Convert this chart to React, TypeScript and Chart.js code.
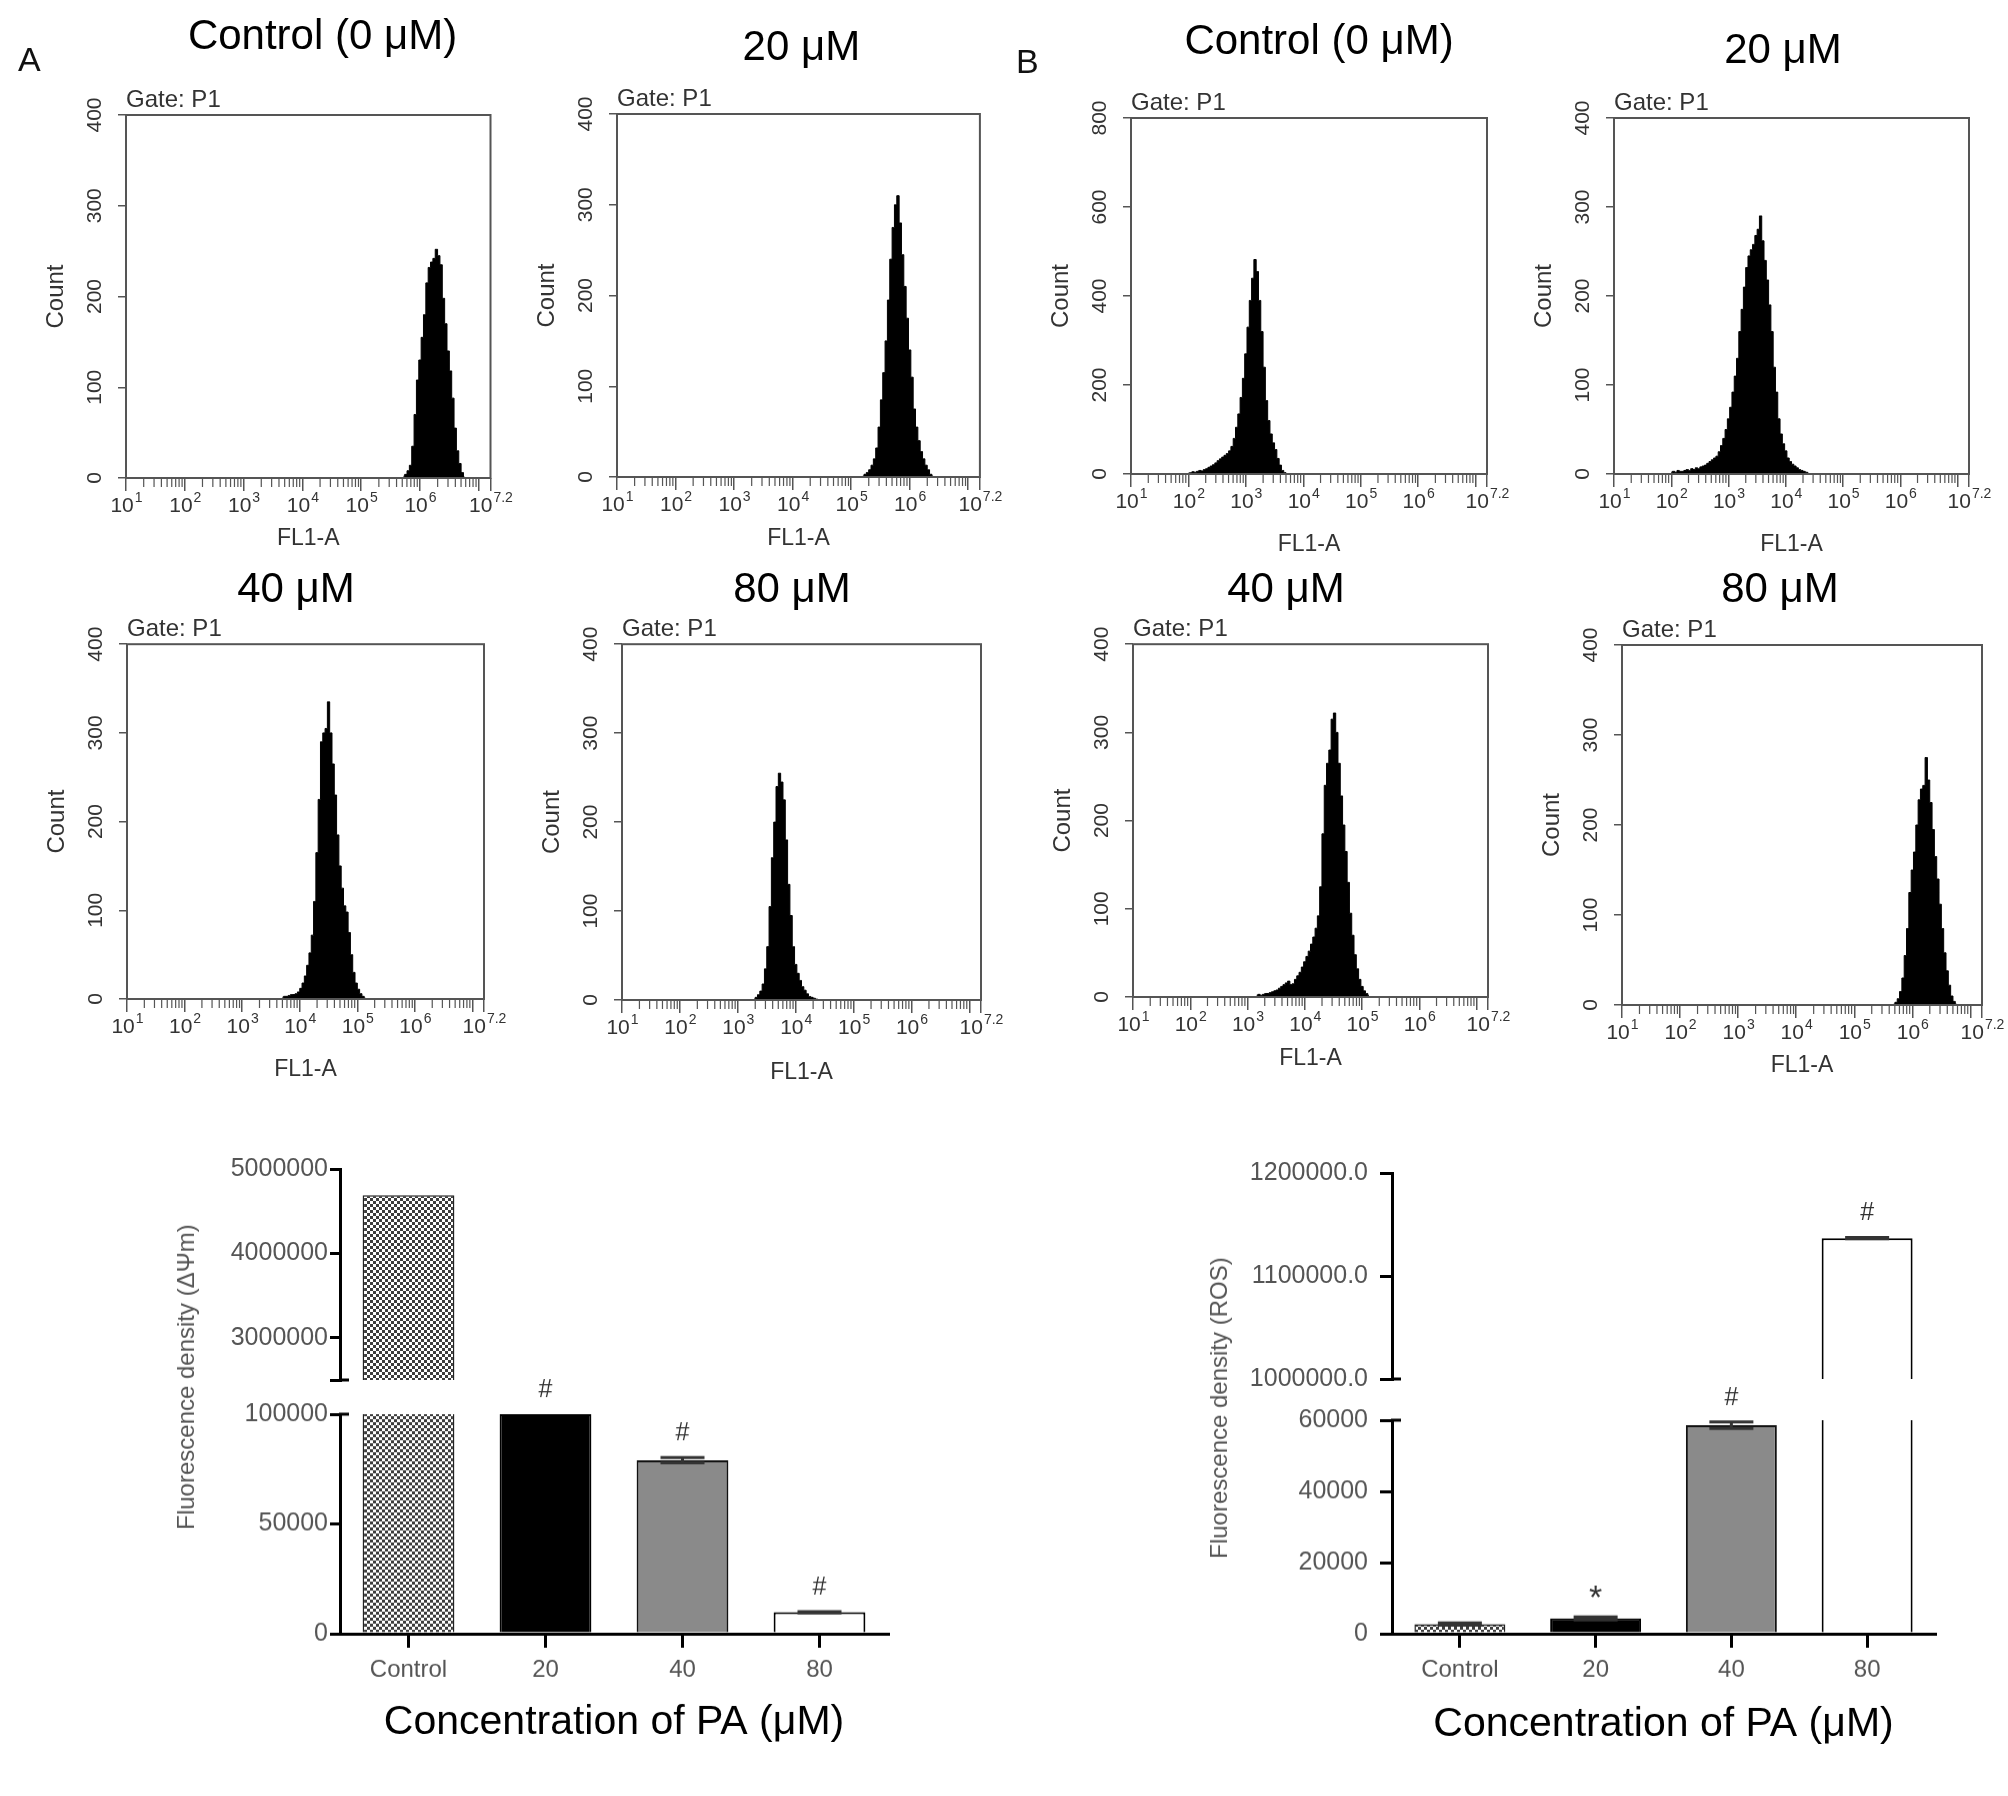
import { useEffect, useRef } from "react";
import { Chart, registerables } from "chart.js";

Chart.register(...registerables);

const FONT = "'Liberation Sans', Arial, Helvetica, sans-serif";
const AXIS = "#555";
const INK = "#333";
Chart.defaults.font.family = FONT;
Chart.defaults.color = INK;

// ---- FL1-A histograms: log10 of the first bin, then counts per 0.04-decade bin ----
const BIN_STEP = 0.04;

const dpsiCtrlStart = 5.72;
const dpsiCtrlCounts = [2, 4, 8, 14, 35, 70, 108, 130, 155, 180, 215, 232, 238, 242, 252, 245, 235, 198, 170, 140, 118, 88, 55, 30, 16, 6, 1];

const dpsi20Start = 5.2;
const dpsi20Counts = [1, 3, 5, 8, 13, 20, 32, 55, 85, 115, 150, 195, 240, 275, 300, 310, 280, 245, 210, 175, 140, 110, 75, 55, 40, 28, 20, 13, 8, 3, 1];

const dpsi40Start = 3.7;
const dpsi40Counts = [2, 3, 3, 4, 5, 5, 6, 8, 12, 18, 26, 38, 52, 72, 110, 165, 225, 290, 300, 305, 335, 300, 265, 230, 185, 150, 125, 105, 98, 75, 50, 30, 18, 11, 6, 3, 1];

const dpsi80Start = 3.28;
const dpsi80Counts = [1, 3, 6, 10, 18, 35, 60, 105, 160, 200, 240, 255, 245, 225, 180, 130, 95, 60, 40, 30, 22, 15, 11, 7, 4, 3, 2, 1, 0];

const rosCtrlStart = 2.0;
const rosCtrlCounts = [2, 3, 5, 4, 6, 8, 7, 10, 12, 15, 18, 21, 25, 30, 34, 38, 42, 46, 52, 62, 80, 105, 135, 172, 215, 270, 330, 390, 440, 482, 455, 390, 320, 240, 165, 120, 90, 70, 55, 35, 20, 8, 3, 1];

const ros20Start = 2.0;
const ros20Counts = [2, 3, 2, 4, 3, 3, 4, 5, 4, 6, 5, 7, 6, 8, 9, 10, 12, 14, 16, 18, 20, 25, 32, 40, 50, 62, 75, 92, 110, 130, 160, 185, 210, 232, 245, 252, 258, 268, 275, 290, 262, 240, 218, 190, 160, 120, 92, 62, 45, 34, 26, 18, 14, 11, 9, 7, 5, 4, 3, 2, 1];

const ros40Start = 3.16;
const ros40Counts = [2, 3, 2, 3, 4, 4, 5, 6, 7, 8, 10, 12, 14, 16, 18, 14, 15, 20, 24, 28, 34, 40, 46, 52, 60, 68, 78, 92, 125, 185, 240, 265, 280, 315, 322, 300, 265, 228, 195, 165, 130, 95, 70, 48, 32, 20, 12, 7, 4, 2];

const ros80Start = 5.68;
const ros80Counts = [1, 3, 7, 15, 30, 55, 85, 125, 150, 170, 200, 228, 240, 244, 275, 250, 225, 195, 165, 140, 112, 85, 58, 38, 22, 10, 4, 1];

// major ticks of the FL1-A axis (log10) and the ones that carry a 10^n label
const flMajorTicks = [1, 2, 3, 4, 5, 6, 7, 7.2];
const flLabelTicks = [1, 2, 3, 4, 5, 6, 7.2];
const flExponents = ["1", "2", "3", "4", "5", "6", "7.2"];

// ---- bar charts ----
const concLabels = ["Control", "20", "40", "80"];

const dpsiMeans = [4690000, 100000, 79000, 9800];
const dpsiErrors = [0, 0, 1200, 300];
const dpsiMarks = ["", "#", "#", "#"];
const dpsiUpperTicks = [2500000, 3000000, 4000000, 5000000];
const dpsiUpperLabels = ["", "3000000", "4000000", "5000000"];
const dpsiLowerTicks = [0, 50000, 100000];
const dpsiLowerLabels = ["0", "50000", "100000"];

const rosMeans = [2700, 4300, 58600, 1136700];
const rosErrors = [300, 400, 900, 600];
const rosMarks = ["", "*", "#", "#"];
const rosUpperTicks = [1000000, 1100000, 1200000];
const rosUpperLabels = ["1000000.0", "1100000.0", "1200000.0"];
const rosLowerTicks = [0, 20000, 40000, 60000];
const rosLowerLabels = ["0", "20000", "40000", "60000"];

// ---- layout (page pixels) ----
type HistPanel = {
  title: string; start: number; counts: number[]; yMax: number;
  left: number; right: number; top: number; bottom: number;
  titleX: number; titleY: number; gateY: number; flY: number;
};

const histPanels: HistPanel[] = [
  { title: "Control (0 μM)", start: dpsiCtrlStart, counts: dpsiCtrlCounts, yMax: 400, left: 125.5, right: 490, top: 115, bottom: 478, titleX: 322, titleY: 36, gateY: 102, flY: 538 },
  { title: "20 μM", start: dpsi20Start, counts: dpsi20Counts, yMax: 400, left: 616.6, right: 979.5, top: 114, bottom: 477, titleX: 801, titleY: 47, gateY: 102, flY: 538 },
  { title: "Control (0 μM)", start: rosCtrlStart, counts: rosCtrlCounts, yMax: 800, left: 1131, right: 1487, top: 118, bottom: 474, titleX: 1319, titleY: 41, gateY: 106, flY: 544 },
  { title: "20 μM", start: ros20Start, counts: ros20Counts, yMax: 400, left: 1614, right: 1969, top: 118, bottom: 474, titleX: 1783, titleY: 50, gateY: 108, flY: 544 },
  { title: "40 μM", start: dpsi40Start, counts: dpsi40Counts, yMax: 400, left: 127, right: 484, top: 641, bottom: 999, titleX: 296, titleY: 589, gateY: 627, flY: 1069 },
  { title: "80 μM", start: dpsi80Start, counts: dpsi80Counts, yMax: 400, left: 622, right: 981, top: 641, bottom: 1000, titleX: 792, titleY: 589, gateY: 627, flY: 1072 },
  { title: "40 μM", start: ros40Start, counts: ros40Counts, yMax: 400, left: 1133, right: 1488, top: 641, bottom: 997, titleX: 1286, titleY: 589, gateY: 629, flY: 1058 },
  { title: "80 μM", start: ros80Start, counts: ros80Counts, yMax: 400, left: 1622, right: 1982, top: 645, bottom: 1005, titleX: 1780, titleY: 589, gateY: 633, flY: 1065 },
];

type BarPanel = {
  means: number[]; errors: number[]; marks: string[];
  upperTicks: number[]; upperLabels: string[]; lowerTicks: number[]; lowerLabels: string[];
  yTitle: string; yTitleX: number; yTitleY: number;
  axisX: number; rightX: number; upperTop: number; upperBottom: number;
  lowerTop: number; lowerBottom: number; titleY: number; yW: number; tickLen: number; tickPad: number;
};

const barPanels: BarPanel[] = [
  {
    means: dpsiMeans, errors: dpsiErrors, marks: dpsiMarks,
    upperTicks: dpsiUpperTicks, upperLabels: dpsiUpperLabels, lowerTicks: dpsiLowerTicks, lowerLabels: dpsiLowerLabels,
    yTitle: "Fluorescence density (ΔΨm)", yTitleX: 186, yTitleY: 1377,
    axisX: 340, rightX: 888, upperTop: 1169, upperBottom: 1380, lowerTop: 1414, lowerBottom: 1633, titleY: 1722,
    yW: 150, tickLen: 10, tickPad: 2,
  },
  {
    means: rosMeans, errors: rosErrors, marks: rosMarks,
    upperTicks: rosUpperTicks, upperLabels: rosUpperLabels, lowerTicks: rosLowerTicks, lowerLabels: rosLowerLabels,
    yTitle: "Fluorescence density (ROS)", yTitleX: 1219, yTitleY: 1408,
    axisX: 1392, rightX: 1935, upperTop: 1171, upperBottom: 1386, lowerTop: 1420, lowerBottom: 1633, titleY: 1724,
    yW: 175, tickLen: 12, tickPad: 12,
  },
];

const Y_AXIS_W = 110;
const TITLE_SIZE = 42;
const SMALL_SIZE = 24;

// frame, minor log ticks and 10^n labels of the FL1-A axis
const flAxisPlugin = {
  id: "flAxis",
  afterDatasetsDraw(chart: any) {
    const { ctx, chartArea: a, scales } = chart;
    const x = scales.x;
    ctx.save();
    ctx.strokeStyle = AXIS;
    ctx.lineWidth = 2;
    ctx.strokeRect(a.left, a.top, a.right - a.left, a.bottom - a.top);
    ctx.lineWidth = 1.2;
    ctx.beginPath();
    for (let d = 1; d < 7; d++) {
      for (let k = 2; k < 10; k++) {
        const px = x.getPixelForValue(d + Math.log10(k));
        ctx.moveTo(px, a.bottom);
        ctx.lineTo(px, a.bottom + 9);
      }
    }
    ctx.stroke();
    ctx.fillStyle = INK;
    ctx.textBaseline = "middle";
    ctx.textAlign = "left";
    flLabelTicks.forEach((v, i) => {
      const px = x.getPixelForValue(v);
      ctx.font = `21px ${FONT}`;
      const wb = ctx.measureText("10").width;
      ctx.font = `14px ${FONT}`;
      const ws = ctx.measureText(flExponents[i]).width;
      const x0 = px - (wb + ws) / 2;
      const y0 = a.bottom + 28;
      ctx.font = `21px ${FONT}`;
      ctx.fillText("10", x0, y0);
      ctx.font = `14px ${FONT}`;
      ctx.fillText(flExponents[i], x0 + wb + 1, y0 - 8);
    });
    ctx.restore();
  },
};

function FlowHistogram({ p }: { p: HistPanel }) {
  const ref = useRef<HTMLCanvasElement>(null);
  const left = p.left - Y_AXIS_W;
  const right = 2 * p.titleX - left;
  const top = p.titleY - 28;
  const titleLine = TITLE_SIZE * 1.2;
  const gateLine = SMALL_SIZE * 1.2;
  const gatePad = Math.max(0, p.top - p.gateY - gateLine / 2);
  const titlePad = Math.max(0, p.top - gatePad - gateLine - (top + 4 + titleLine));
  const xAxisH = p.flY + gateLine / 2 - p.bottom;
  const height = p.bottom + xAxisH - top;

  useEffect(() => {
    if (!ref.current) return;
    const points = p.counts.map((c, i) => ({ x: p.start + i * BIN_STEP, y: c }));
    const chart = new Chart(ref.current, {
      type: "line",
      data: {
        datasets: [
          {
            data: points,
            stepped: "middle",
            fill: "origin",
            backgroundColor: "#000",
            borderColor: "#000",
            borderWidth: 1,
            pointRadius: 0,
          },
        ],
      },
      options: {
        animation: false,
        responsive: true,
        maintainAspectRatio: false,
        layout: { padding: 0 },
        plugins: {
          legend: { display: false },
          tooltip: { enabled: false },
          title: {
            display: true,
            text: p.title,
            color: "#000",
            font: { family: FONT, size: TITLE_SIZE, weight: "normal" },
            padding: { top: 4, bottom: titlePad },
          },
          subtitle: {
            display: true,
            text: "Gate: P1",
            align: "start",
            fullSize: false,
            color: INK,
            font: { family: FONT, size: SMALL_SIZE },
            padding: { top: 0, bottom: gatePad },
          },
        },
        scales: {
          x: {
            type: "linear",
            min: 1,
            max: 7.2,
            afterBuildTicks: (s: any) => {
              s.ticks = flMajorTicks.map((v) => ({ value: v }));
            },
            afterFit: (s: any) => {
              s.height = xAxisH;
            },
            ticks: { display: false },
            grid: { drawOnChartArea: false, tickLength: 13, color: AXIS, lineWidth: 1.5 },
            border: { display: false },
            title: { display: true, text: "FL1-A", color: INK, font: { family: FONT, size: 23 }, padding: 0 },
          },
          y: {
            min: 0,
            max: p.yMax,
            ticks: {
              stepSize: p.yMax / 4,
              minRotation: 90,
              maxRotation: 90,
              crossAlign: "center",
              padding: 5,
              color: INK,
              font: { family: FONT, size: 21 },
            },
            grid: { drawOnChartArea: false, tickLength: 8, color: AXIS, lineWidth: 1.5 },
            border: { display: false },
            afterFit: (s: any) => {
              s.width = Y_AXIS_W;
            },
            title: {
              display: true,
              text: "Count",
              color: INK,
              font: { family: FONT, size: SMALL_SIZE },
              padding: { top: Y_AXIS_W - 70 - gateLine / 2, bottom: 0 },
            },
          },
          // empty axis on the right: keeps room for the 10^7.2 label and lets the
          // full-width title sit where the original has it
          yRoom: {
            type: "linear",
            position: "right",
            display: true,
            ticks: { display: false },
            grid: { display: false },
            border: { display: false },
            afterFit: (s: any) => {
              s.width = right - p.right;
            },
          },
        },
      },
      plugins: [flAxisPlugin],
    } as any);
    return () => {
      chart.destroy();
    };
  }, [p]);

  return (
    <div style={{ position: "absolute", left, top, width: right - left, height }}>
      <canvas ref={ref} />
    </div>
  );
}

function makeCheckPattern(): CanvasPattern | string {
  const c = document.createElement("canvas");
  c.width = 6;
  c.height = 6;
  const g = c.getContext("2d");
  if (!g) return "#777";
  g.fillStyle = "#fff";
  g.fillRect(0, 0, 6, 6);
  g.fillStyle = "#3c3c3c";
  g.fillRect(0, 0, 3, 3);
  g.fillRect(3, 3, 3, 3);
  return g.createPattern(c, "repeat") || "#777";
}

// error bars, significance marks and the little stub where the axis breaks
function barAnnotations(p: BarPanel, upper: boolean) {
  return {
    id: "barAnnotations",
    afterDatasetsDraw(chart: any) {
      const { ctx, chartArea: a, scales } = chart;
      const x = scales.x;
      const y = scales.y;
      ctx.save();
      ctx.beginPath();
      ctx.rect(a.left, a.top - 2, a.right - a.left, a.bottom - a.top + 2);
      ctx.clip();
      ctx.strokeStyle = "#333";
      ctx.lineWidth = 3;
      p.means.forEach((m, i) => {
        const e = p.errors[i];
        if (!e) return;
        const cx = x.getPixelForValue(i);
        const hi = y.getPixelForValue(m + e);
        const lo = y.getPixelForValue(m - e);
        ctx.beginPath();
        ctx.moveTo(cx, hi);
        ctx.lineTo(cx, lo);
        ctx.moveTo(cx - 22, hi);
        ctx.lineTo(cx + 22, hi);
        ctx.moveTo(cx - 22, lo);
        ctx.lineTo(cx + 22, lo);
        ctx.stroke();
      });
      ctx.restore();

      ctx.save();
      ctx.fillStyle = INK;
      ctx.textAlign = "center";
      ctx.textBaseline = "middle";
      p.means.forEach((m, i) => {
        const mark = p.marks[i];
        if (!mark || m < y.min || m > y.max) return;
        const star = mark === "*";
        ctx.font = `${star ? 34 : 25}px ${FONT}`;
        ctx.fillText(mark, x.getPixelForValue(i), y.getPixelForValue(m + p.errors[i]) - (star ? 18 : 24));
      });
      const by = upper ? a.bottom : a.top;
      ctx.strokeStyle = "#000";
      ctx.lineWidth = 3;
      ctx.beginPath();
      ctx.moveTo(a.left - 1, by);
      ctx.lineTo(a.left + 9, by);
      ctx.stroke();
      ctx.restore();
    },
  };
}

function BrokenBars({ p }: { p: BarPanel }) {
  const upperRef = useRef<HTMLCanvasElement>(null);
  const lowerRef = useRef<HTMLCanvasElement>(null);
  const left = p.axisX - p.yW;
  const width = p.rightX + 12 - left;
  const upTop = p.upperTop - 25;
  const upBottom = p.upperBottom + 20;
  const loTop = p.lowerTop - 55;
  const loBottom = p.titleY + 41 * 0.6;
  const xAxisH = loBottom - p.lowerBottom;

  useEffect(() => {
    if (!upperRef.current || !lowerRef.current) return;
    const fills = [makeCheckPattern(), "#000", "#8a8a8a", "#fff"];
    const make = (canvas: HTMLCanvasElement, upper: boolean) => {
      const ticks = upper ? p.upperTicks : p.lowerTicks;
      const labels = upper ? p.upperLabels : p.lowerLabels;
      return new Chart(canvas, {
        type: "bar",
        data: {
          labels: concLabels,
          datasets: [
            {
              data: p.means,
              backgroundColor: fills,
              borderColor: ["#222", "#000", "#111", "#000"],
              borderWidth: [1.5, 2, 2, 2],
              barPercentage: 0.67,
              categoryPercentage: 1,
              clip: 0,
            },
          ],
        },
        options: {
          animation: false,
          responsive: true,
          maintainAspectRatio: false,
          layout: {
            padding: upper
              ? { left: 0, right: 12, top: 25, bottom: 20 }
              : { left: 0, right: 12, top: 55, bottom: 0 },
          },
          plugins: { legend: { display: false }, tooltip: { enabled: false } },
          scales: {
            x: upper
              ? { display: false }
              : {
                  grid: { offset: false, drawOnChartArea: false, tickLength: 14, color: "#000", lineWidth: 3 },
                  border: { color: "#000", width: 3 },
                  ticks: { color: "#555", font: { family: FONT, size: 24 }, padding: 8 },
                  title: {
                    display: true,
                    text: "Concentration of PA (μM)",
                    color: "#000",
                    font: { family: FONT, size: 41 },
                    padding: 0,
                  },
                  afterFit: (s: any) => {
                    s.height = xAxisH;
                  },
                },
            y: {
              min: ticks[0],
              max: ticks[ticks.length - 1],
              afterBuildTicks: (s: any) => {
                s.ticks = ticks.map((v) => ({ value: v }));
              },
              ticks: {
                callback: (_v: any, i: number) => labels[i],
                color: "#555",
                font: { family: FONT, size: 25 },
                padding: p.tickPad,
              },
              grid: { drawOnChartArea: false, tickLength: p.tickLen, color: "#000", lineWidth: 3 },
              border: { color: "#000", width: 3 },
              afterFit: (s: any) => {
                s.width = p.yW;
              },
            },
          },
        },
        plugins: [barAnnotations(p, upper)],
      } as any);
    };
    const top = make(upperRef.current, true);
    const bottom = make(lowerRef.current, false);
    return () => {
      top.destroy();
      bottom.destroy();
    };
  }, [p]);

  return (
    <>
      <div style={{ position: "absolute", left, top: upTop, width, height: upBottom - upTop }}>
        <canvas ref={upperRef} />
      </div>
      <div style={{ position: "absolute", left, top: loTop, width, height: loBottom - loTop }}>
        <canvas ref={lowerRef} />
      </div>
      <div
        style={{
          position: "absolute",
          left: p.yTitleX,
          top: p.yTitleY,
          transform: "translate(-50%, -50%) rotate(-90deg)",
          whiteSpace: "nowrap",
          fontSize: 24,
          color: "#555",
        }}
      >
        {p.yTitle}
      </div>
    </>
  );
}

export default function App() {
  return (
    <div
      style={{
        position: "absolute",
        left: 0,
        top: 0,
        width: 2008,
        height: 1796,
        overflow: "hidden",
        background: "#fff",
        fontFamily: FONT,
      }}
    >
      {histPanels.map((p, i) => (
        <FlowHistogram key={i} p={p} />
      ))}
      {barPanels.map((p, i) => (
        <BrokenBars key={i} p={p} />
      ))}
      <div style={{ position: "absolute", left: 18, top: 42, fontSize: 34, lineHeight: 1, color: "#111" }}>A</div>
      <div style={{ position: "absolute", left: 1016, top: 44, fontSize: 34, lineHeight: 1, color: "#111" }}>B</div>
    </div>
  );
}
